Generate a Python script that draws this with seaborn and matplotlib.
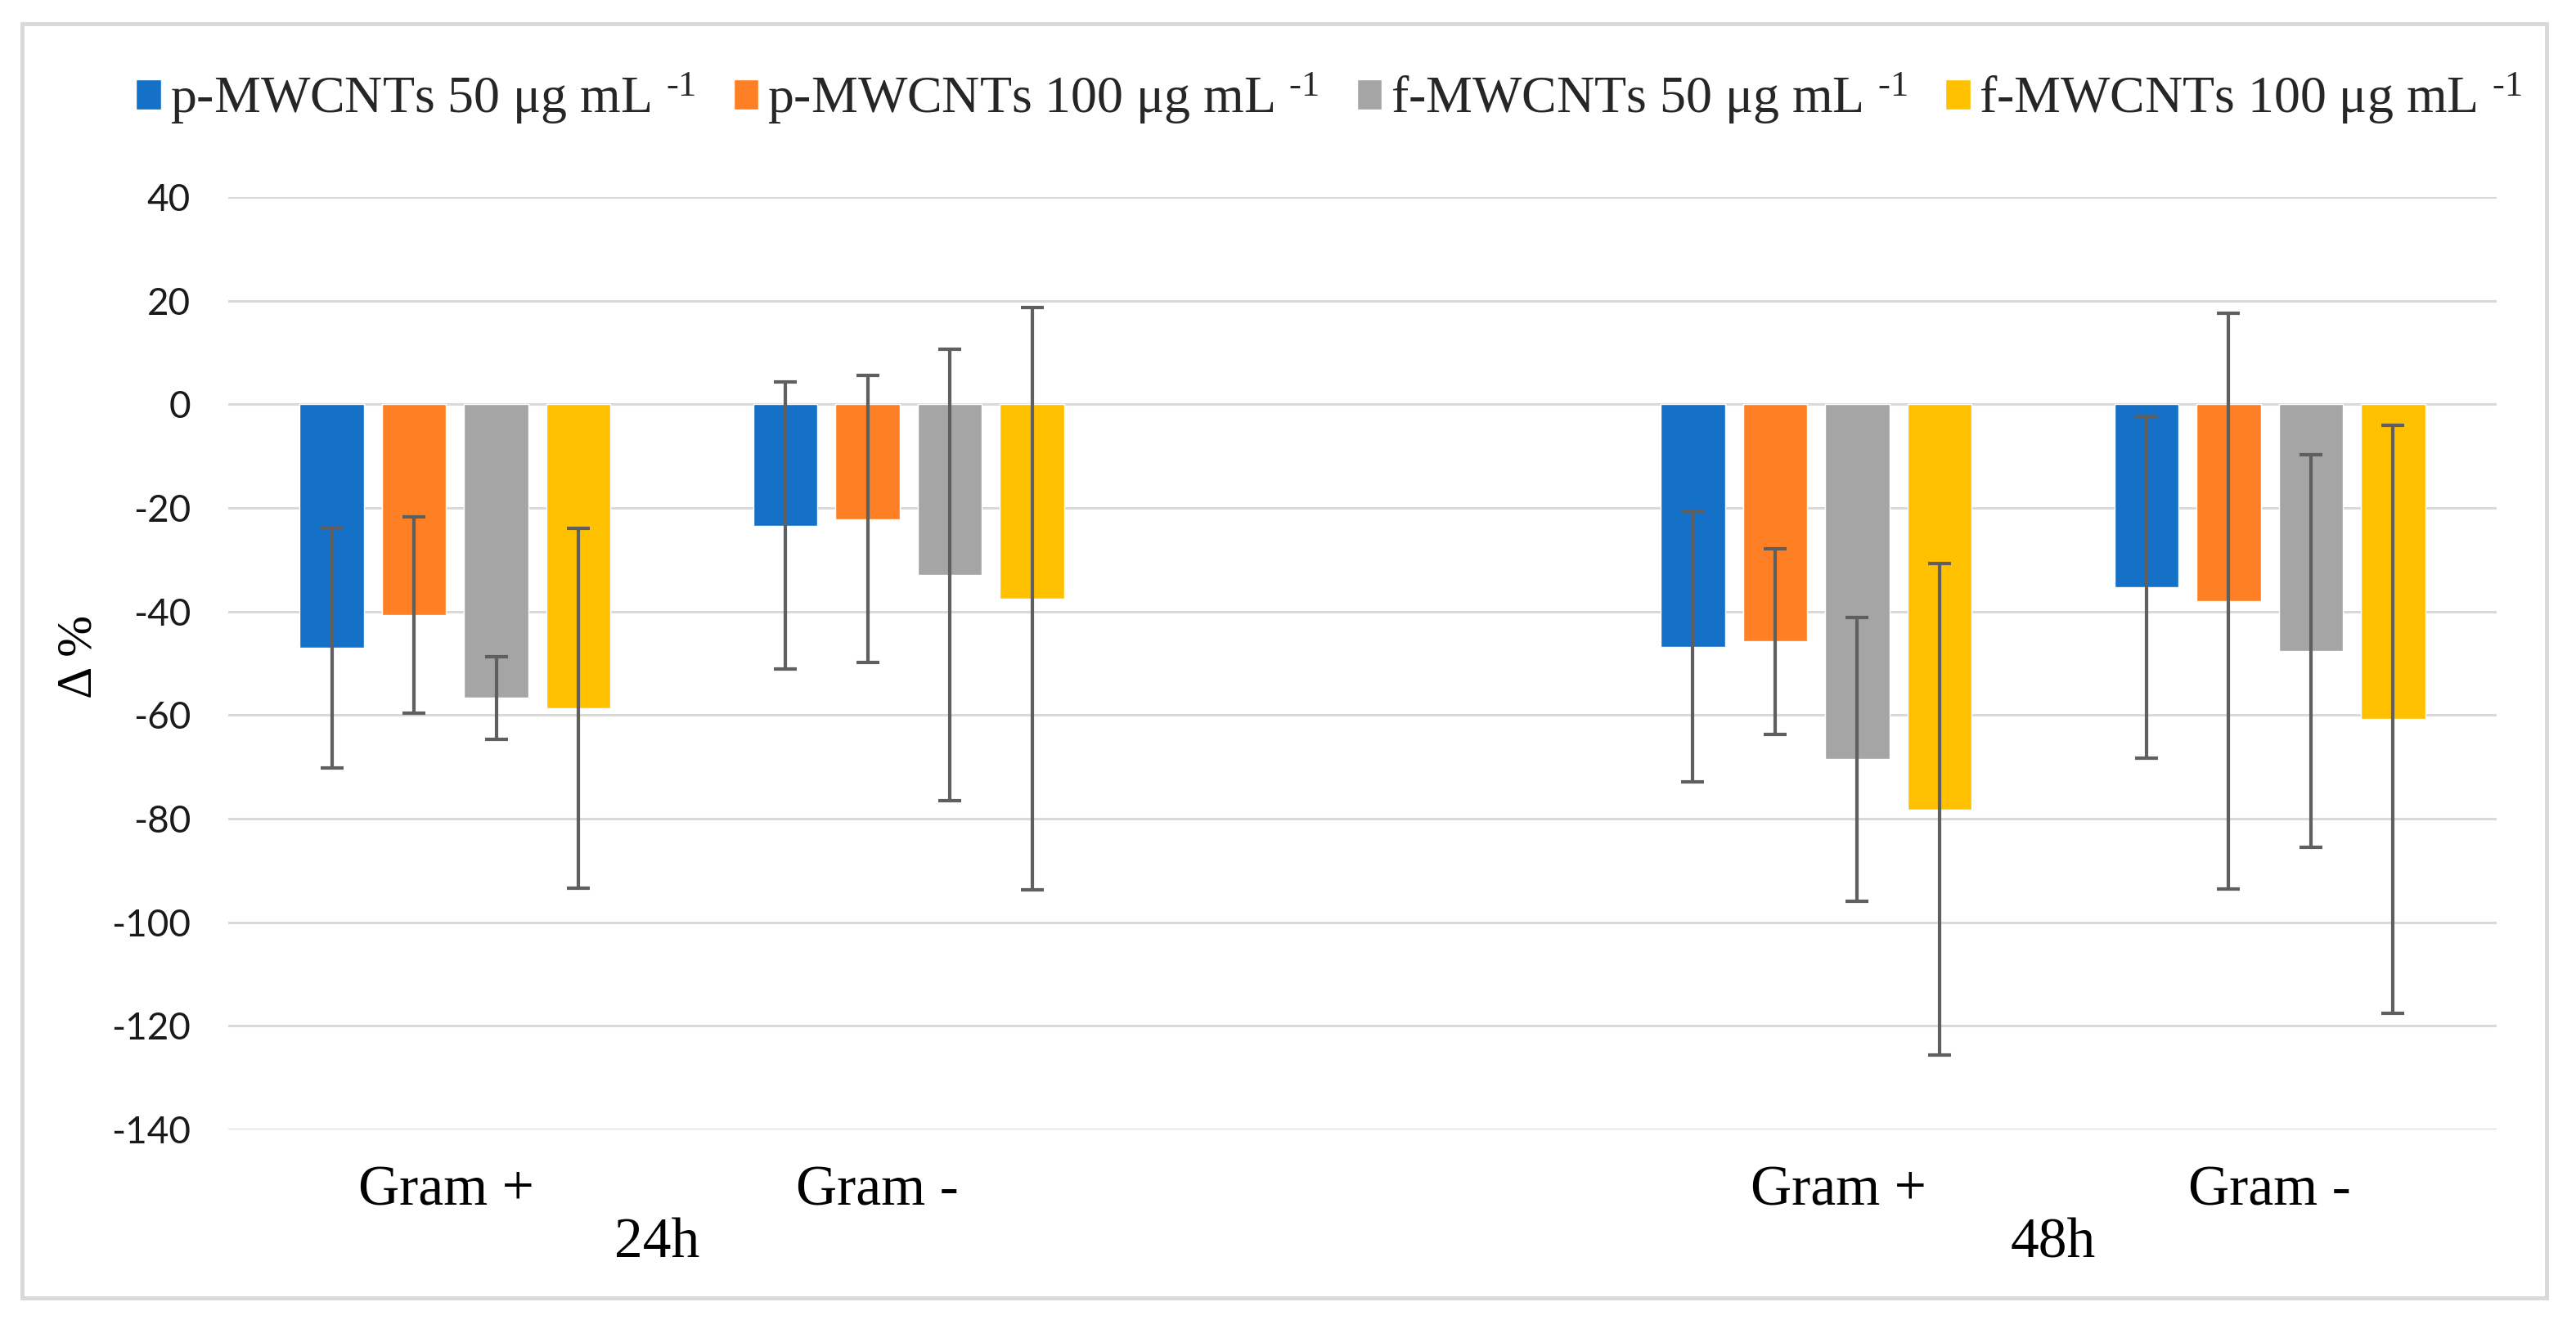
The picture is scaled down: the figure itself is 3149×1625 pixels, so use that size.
import pandas as pd
import seaborn as sns
import matplotlib.pyplot as plt
from matplotlib import font_manager
from matplotlib.patches import Rectangle
from matplotlib.container import BarContainer
import matplotlib.transforms as mtransforms

# categories (the blank slot is the empty column between 24h and 48h)
groups = ["24h Gram +", "24h Gram -", "blank", "48h Gram +", "48h Gram -"]
treatments = [
    r"p-MWCNTs 50 μg mL $^{\text{-1}}$",
    r"p-MWCNTs 100 μg mL $^{\text{-1}}$",
    r"f-MWCNTs 50 μg mL $^{\text{-1}}$",
    r"f-MWCNTs 100 μg mL $^{\text{-1}}$",
]
colors = ["#1570C8", "#FF7F24", "#A5A5A5", "#FFC000"]

# mean change (%) per group, one value per treatment
gram_pos_24 = [-47.0, -40.7, -56.7, -58.7]
gram_neg_24 = [-23.4, -22.2, -33.0, -37.5]
gram_pos_48 = [-46.8, -45.8, -68.5, -78.2]
gram_neg_48 = [-35.3, -38.0, -47.7, -60.8]

# standard deviations
sd_pos_24 = [23.2, 19.0, 8.0, 34.7]
sd_neg_24 = [27.7, 27.7, 43.6, 56.2]
sd_pos_48 = [26.1, 17.9, 27.4, 47.5]
sd_neg_48 = [33.0, 55.6, 37.9, 56.7]

tick_labels = ["Gram +", "Gram -", "Gram +", "Gram -"]
time_labels = ["24h", "48h"]
yticks = list(range(-140, 41, 20))

# long table for seaborn
rows = []
for g, vals, sds in [("24h Gram +", gram_pos_24, sd_pos_24),
                     ("24h Gram -", gram_neg_24, sd_neg_24),
                     ("48h Gram +", gram_pos_48, sd_pos_48),
                     ("48h Gram -", gram_neg_48, sd_neg_48)]:
    for t, v, s in zip(treatments, vals, sds):
        rows.append({"group": g, "treatment": t, "value": v, "sd": s})
df = pd.DataFrame(rows)

sns.set_theme(style="white")
plt.rcParams["font.family"] = ["Liberation Serif", "DejaVu Serif"]
plt.rcParams["mathtext.fontset"] = "custom"
plt.rcParams["mathtext.rm"] = "Liberation Serif"
plt.rcParams["mathtext.it"] = "Liberation Serif:italic"

# narrow sans for the value axis (Calibri-like proportions)
installed = {f.name for f in font_manager.fontManager.ttflist}
if "Liberation Sans Narrow" in installed:
    tick_font, tick_size = "Liberation Sans Narrow", 38
else:
    tick_font, tick_size = "Lato", 33

W, H = 3149, 1625
fig = plt.figure(figsize=(W / 100, H / 100), dpi=100)
ax = fig.add_axes([279 / W, 1 - 1381 / H, (3052 - 279) / W, (1381 - 241) / H])

sns.barplot(data=df, x="group", y="value", hue="treatment", order=groups,
            hue_order=treatments, palette=colors, width=0.725, gap=0.22,
            errorbar=None, saturation=1, ax=ax, zorder=2)

# error bars on each bar
sd_lookup = {(r.group, r.treatment): r.sd for r in df.itertuples()}
bar_conts = [c for c in ax.containers if isinstance(c, BarContainer)]
for ti, cont in enumerate(bar_conts):
    for p in cont.patches:
        h = p.get_height()
        if h != h or h == 0:
            continue
        xc = p.get_x() + p.get_width() / 2
        g = groups[int(round(xc))]
        s = sd_lookup[(g, treatments[ti])]
        ax.errorbar(xc, h, yerr=s, color="#5f5f5f", elinewidth=3,
                    capsize=10, capthick=3, zorder=3)

ax.set_ylim(-140, 40)
ax.set_xlim(-0.5, 4.5)
ax.set_yticks(yticks)
ax.set_yticklabels([str(v) for v in yticks], family=tick_font,
                   fontsize=tick_size, color="#1a1a1a")
ax.tick_params(axis="y", length=0, pad=33)
ax.set_xticks([])
ax.set_xlabel("")
ax.set_ylabel("")
ax.yaxis.grid(True, color="#d9d9d9", linewidth=2.2)
ax.set_axisbelow(True)
for sp in ax.spines.values():
    sp.set_visible(False)

# category labels on two levels
trans = mtransforms.blended_transform_factory(ax.transData, fig.transFigure)
for x, lab in zip([-0.02, 0.93, 3.05, 4.0], tick_labels):
    ax.text(x, 1 - 1473 / H, lab, transform=trans, ha="center",
            va="baseline", fontsize=50, color="black")
for x, lab in zip([0.445, 3.522], time_labels):
    ax.text(x, 1 - 1537 / H, lab, transform=trans, ha="center",
            va="baseline", fontsize=50, color="black")

fig.text(97 / W, 1 - 803 / H, "Δ %", rotation=90, ha="center", va="center",
         fontsize=44, color="black")

# legend across the top
handles, labels = ax.get_legend_handles_labels()
ax.legend(handles, labels, loc="center", bbox_to_anchor=(0.516, 0.926),
          bbox_transform=fig.transFigure, ncol=4, frameon=False,
          fontsize=46, handlelength=0.48, handleheight=0.5,
          handletextpad=0.17, columnspacing=0.72)

# chart area border
fig.patches.append(Rectangle((27 / W, 1 - 1587 / H), (3113 - 27) / W,
                             (1587 - 29) / H, transform=fig.transFigure,
                             fill=False, edgecolor="#d9d9d9", linewidth=3.5))

fig.savefig("out.png", dpi=100, facecolor="white")
